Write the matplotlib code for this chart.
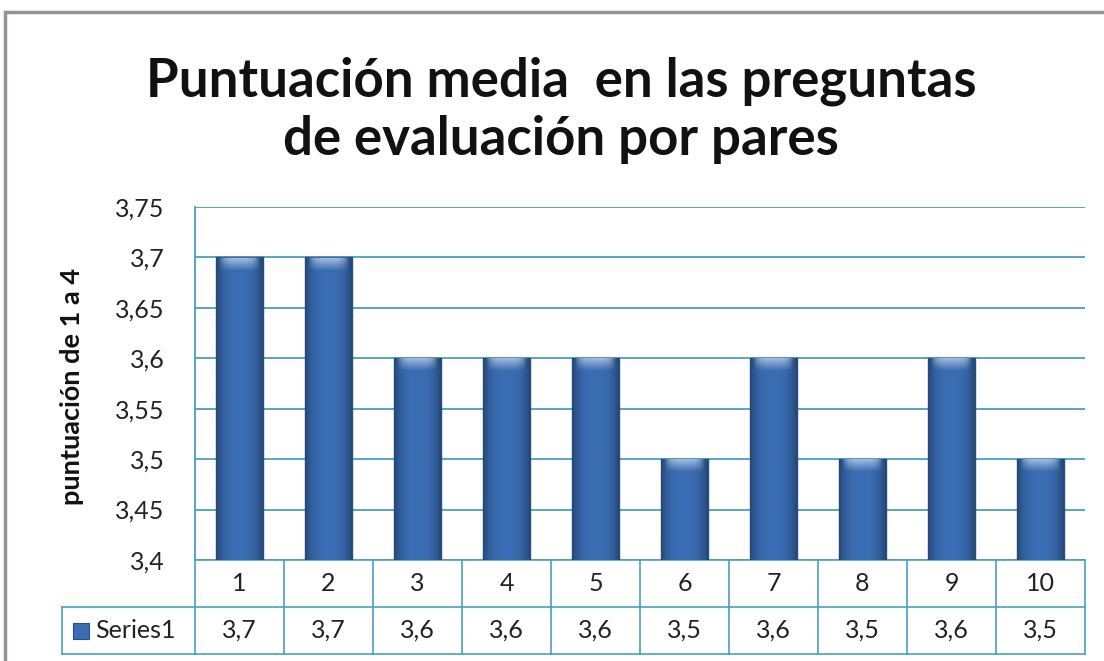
import matplotlib
matplotlib.use("Agg")
import matplotlib.pyplot as plt
import numpy as np
from matplotlib.patches import Rectangle
from matplotlib.transforms import blended_transform_factory

categories = ["1", "2", "3", "4", "5", "6", "7", "8", "9", "10"]
values = [3.7, 3.7, 3.6, 3.6, 3.6, 3.5, 3.6, 3.5, 3.6, 3.5]
series_name = "Series1"
yticks = [3.4, 3.45, 3.5, 3.55, 3.6, 3.65, 3.7, 3.75]
title = "Puntuación media  en las preguntas\nde evaluación por pares"
ylabel = "puntuación de 1 a 4"

W, H = 1104, 661
fig = plt.figure(figsize=(W / 100, H / 100), dpi=100)
plt.rcParams['font.family'] = ['Lato', 'DejaVu Sans']

grid_c = "#4A9FC0"
bar_c = "#3A6DB3"
txt_c = "#222222"

# outer frame
fig.patches.append(Rectangle((5 / W, -0.1), 1.2, 1 - 12 / H + 0.1, transform=fig.transFigure,
                             fill=False, edgecolor="#8A9499", linewidth=2.5))

left, right, top, bottom = 195, 1085, 207, 560
ax = fig.add_axes([left / W, 1 - bottom / H, (right - left) / W, (bottom - top) / H])
x = np.arange(len(categories))
bars = ax.bar(x, [v - 3.4 for v in values], bottom=3.4, width=0.52, color=bar_c,
              edgecolor="#244F8A", linewidth=1.0, zorder=3)

# gradient shading on bars
prof = np.linspace(-1, 1, 64)
shade = 1 - 0.35 * np.abs(prof) ** 3
base = np.array(matplotlib.colors.to_rgb(bar_c))
img = np.ones((2, 64, 3)) * base
img = img * shade[None, :, None]
for b in bars:
    bx, by, bw, bh = b.get_x(), b.get_y(), b.get_width(), b.get_height()
    im = ax.imshow(img, extent=(bx, bx + bw, by, by + bh), aspect='auto', zorder=3.5,
                   interpolation='bilinear')
    im.set_clip_path(b)
    n = 20
    hl = np.zeros((n, 64, 4))
    hl[..., :3] = 1.0
    alpha = np.linspace(0.55, 0.0, n)[:, None] * (1 - np.abs(prof) ** 4)[None, :]
    hl[..., 3] = alpha
    im2 = ax.imshow(hl, extent=(bx + bw * 0.06, bx + bw * 0.94, by + bh - 0.013, by + bh - 0.001),
                    aspect='auto', zorder=3.6, interpolation='bilinear')
    im2.set_clip_path(b)

ax.set_xlim(-0.5, len(categories) - 0.5)
ax.set_ylim(3.4, 3.75)
ax.set_yticks(yticks)
ax.set_yticklabels([("%g" % t).replace(".", ",") for t in yticks], fontsize=18, color=txt_c)
ax.tick_params(axis='y', length=0, pad=22)
ax.set_xticks([])
ax.grid(axis='y', color=grid_c, linewidth=1.3, zorder=0)
for s in ["top", "right", "bottom"]:
    ax.spines[s].set_visible(False)
ax.spines["left"].set_color(grid_c)
ax.spines["left"].set_linewidth(1.3)

fig.text(72 / W, 1 - 386 / H, ylabel, rotation=90, ha='center', va='center', fontsize=19.5,
         fontweight='bold', color="#111111")

fig.text(561 / W, 1 - 110 / H, title, ha='center', va='center', fontsize=38, fontweight='bold',
         linespacing=1.22, color="#111111")

# data table below axis
tr = blended_transform_factory(ax.transData, fig.transFigure)
y0, y1, y2 = 1 - 560 / H, 1 - 607 / H, 1 - 654 / H
lw = 1.2
x_left_data = ax.transData.inverted().transform((62, 0))[0]
for i in range(len(categories) + 1):
    ax.plot([i - 0.5, i - 0.5], [y0, y2], transform=tr, color=grid_c, lw=lw, clip_on=False)
ax.plot([x_left_data, x_left_data], [y1, y2], transform=tr, color=grid_c, lw=lw, clip_on=False)
ax.plot([-0.5, len(categories) - 0.5], [y0, y0], transform=tr, color=grid_c, lw=lw, clip_on=False)
ax.plot([x_left_data, len(categories) - 0.5], [y1, y1], transform=tr, color=grid_c, lw=lw, clip_on=False)
ax.plot([x_left_data, len(categories) - 0.5], [y2, y2], transform=tr, color=grid_c, lw=lw, clip_on=False)
for i, (c, v) in enumerate(zip(categories, values)):
    ax.text(i, (y0 + y1) / 2, c, transform=tr, ha='center', va='center', fontsize=18, color=txt_c)
    ax.text(i, (y1 + y2) / 2, ("%g" % v).replace(".", ","), transform=tr, ha='center', va='center',
            fontsize=18, color=txt_c)
fig.patches.append(Rectangle((73 / W, (y1 + y2) / 2 - 8 / H), 16 / W, 16 / H, transform=fig.transFigure,
                             facecolor=bar_c, edgecolor="#244F8A", lw=0.8))
fig.text(95 / W, (y1 + y2) / 2, series_name, ha='left', va='center', fontsize=18, color=txt_c)

fig.savefig("out.png", dpi=100)
